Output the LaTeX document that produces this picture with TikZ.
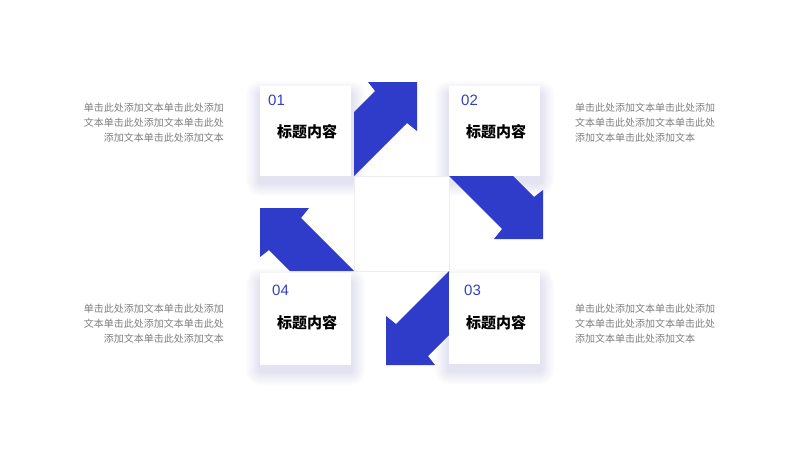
\documentclass[tikz,border=0pt]{standalone}
\usepackage{fontspec}
\setmainfont{Noto Sans CJK SC}
\newfontfamily\numfont{Liberation Sans}
\definecolor{arrowblue}{HTML}{2F3BC9}
\definecolor{numblue}{HTML}{3440C0}
\definecolor{desc}{HTML}{7F7F7F}
\definecolor{shadowc}{HTML}{A4AAF0}
\definecolor{gridline}{HTML}{ECECF2}
\tikzset{
  arrowshape/.style={fill=arrowblue, draw=none},
  cardbox/.style={fill=white, draw=none},
  numtext/.style={text=numblue, font=\numfont\fontsize{15}{18}\selectfont, anchor=west, inner sep=0pt},
  titletext/.style={text=black, font=\bfseries\fontsize{15}{18}\selectfont, inner sep=0pt},
  desctextL/.style={text=desc, font=\fontsize{10}{15}\selectfont, align=right, anchor=north east, inner sep=0pt},
  desctextR/.style={text=desc, font=\fontsize{10}{15}\selectfont, align=left, anchor=north west, inner sep=0pt},
}
\newcommand{\softshadow}[4]{%
  \foreach \i in {1,...,14}{%
    \fill[shadowc, fill opacity=0.02, rounded corners=\i pt] (#1-\i,#2+9-\i) rectangle (#3+\i,#4+6+\i);
  }%
}
\begin{document}
\begin{tikzpicture}[x=1pt,y=-1pt]
\useasboundingbox (0,0) rectangle (800,450);
\fill[white] (0,0) rectangle (800,450);
% shadows
\softshadow{260}{86}{351}{176}
\softshadow{449}{86}{540}{176}
\softshadow{260}{273}{351}{365}
\softshadow{449}{273}{540}{364}
% center square
\node[draw=gridline, fill=white, line width=0.6pt, minimum width=95pt, minimum height=95pt, inner sep=0pt] (center) at (401.5,223.5) {};
% arrows
\fill[arrowshape] (354,176) -- (354,112) -- (375,91) -- (368,82) -- (417,82) -- (417,131) -- (407,123) -- cycle;
\fill[arrowshape] (449,176) -- (513,176) -- (534,197) -- (543,190) -- (543,239) -- (494,239) -- (502,229) -- cycle;
\fill[arrowshape] (449,271) -- (449,335) -- (428,356) -- (435,365) -- (386,365) -- (386,316) -- (396,324) -- cycle;
\fill[arrowshape] (354,271) -- (290,271) -- (269,250) -- (260,257) -- (260,208) -- (309,208) -- (301,218) -- cycle;
% cards
\fill[cardbox] (260,86) rectangle (351,176);
\fill[cardbox] (449,86) rectangle (540,176);
\fill[cardbox] (260,273) rectangle (351,365);
\fill[cardbox] (449,273) rectangle (540,364);
% numbers
\node[numtext] (n1) at (268,100) {01};
\node[numtext] (n2) at (461,100) {02};
\node[numtext] (n4) at (272,290) {04};
\node[numtext] (n3) at (464,290) {03};
% titles
\node[titletext] (t1) at (307,132) {标题内容};
\node[titletext] (t2) at (496,132) {标题内容};
\node[titletext] (t4) at (307,323) {标题内容};
\node[titletext] (t3) at (496,323) {标题内容};
% descriptions
\node[desctextL] (d1) at (224,103) {单击此处添加文本单击此处添加\\文本单击此处添加文本单击此处\\添加文本单击此处添加文本};
\node[desctextR] (d2) at (575,103) {单击此处添加文本单击此处添加\\文本单击此处添加文本单击此处\\添加文本单击此处添加文本};
\node[desctextL] (d4) at (224,304) {单击此处添加文本单击此处添加\\文本单击此处添加文本单击此处\\添加文本单击此处添加文本};
\node[desctextR] (d3) at (575,304) {单击此处添加文本单击此处添加\\文本单击此处添加文本单击此处\\添加文本单击此处添加文本};
\end{tikzpicture}
\end{document}
